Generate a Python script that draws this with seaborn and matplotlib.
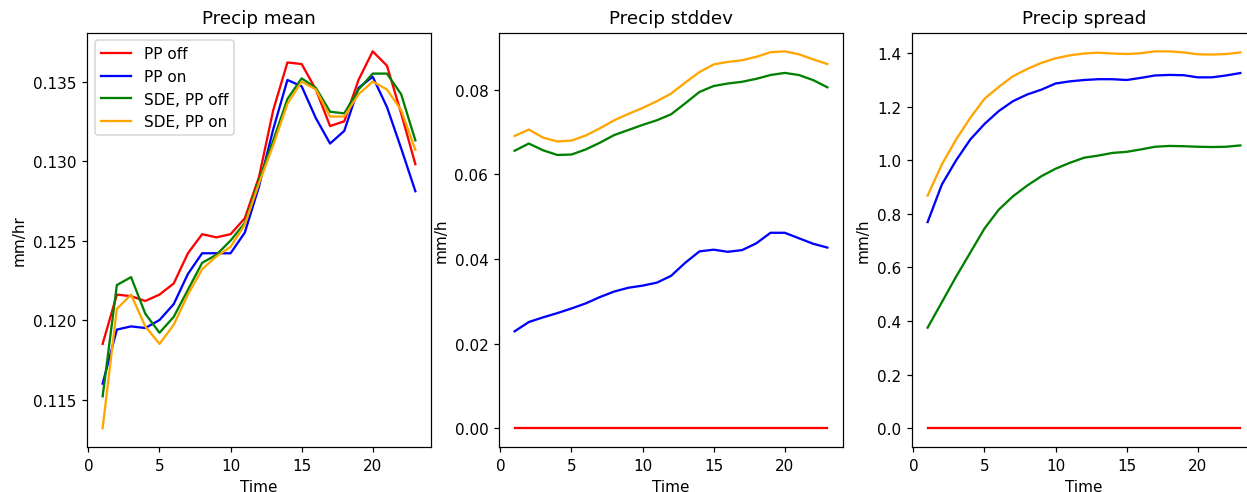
import numpy as np
import pandas as pd
import seaborn as sns
import matplotlib.pyplot as plt

# time steps
time = list(range(1, 24))

labels = ['PP off', 'PP on', 'SDE, PP off', 'SDE, PP on']
colors = ['red', 'blue', 'green', 'orange']

# precip mean (mm/hr)
mean_pp_off = [0.1185, 0.1216, 0.1215, 0.1212, 0.1216, 0.1223, 0.1242, 0.1254, 0.1252, 0.1254, 0.1264, 0.1290,
               0.1332, 0.1362, 0.1361, 0.1345, 0.1322, 0.1325, 0.1351, 0.1369, 0.1360, 0.1330, 0.1298]
mean_pp_on = [0.1160, 0.1194, 0.1196, 0.1195, 0.1200, 0.1210, 0.1229, 0.1242, 0.1242, 0.1242, 0.1255, 0.1284,
              0.1320, 0.1351, 0.1347, 0.1327, 0.1311, 0.1319, 0.1346, 0.1353, 0.1334, 0.1308, 0.1281]
mean_sde_off = [0.1152, 0.1222, 0.1227, 0.1204, 0.1192, 0.1202, 0.1219, 0.1236, 0.1241, 0.1250, 0.1261, 0.1288,
                0.1313, 0.1339, 0.1352, 0.1346, 0.1331, 0.1330, 0.1345, 0.1355, 0.1355, 0.1342, 0.1313]
mean_sde_on = [0.1132, 0.1207, 0.1216, 0.1196, 0.1185, 0.1197, 0.1216, 0.1232, 0.1240, 0.1246, 0.1260, 0.1286,
               0.1310, 0.1336, 0.1350, 0.1345, 0.1328, 0.1328, 0.1342, 0.1350, 0.1345, 0.1332, 0.1307]

# precip stddev (mm/h)
std_pp_off = [0.0] * 23
std_pp_on = [0.0229, 0.0251, 0.0262, 0.0272, 0.0283, 0.0295, 0.0310, 0.0323, 0.0332, 0.0337, 0.0344, 0.0360,
             0.0391, 0.0418, 0.0422, 0.0417, 0.0421, 0.0437, 0.0462, 0.0462, 0.0449, 0.0436, 0.0427]
std_sde_off = [0.0656, 0.0673, 0.0657, 0.0646, 0.0647, 0.0659, 0.0675, 0.0693, 0.0705, 0.0717, 0.0728, 0.0742,
               0.0768, 0.0795, 0.0809, 0.0815, 0.0819, 0.0826, 0.0835, 0.0840, 0.0835, 0.0823, 0.0806]
std_sde_on = [0.0691, 0.0706, 0.0687, 0.0678, 0.0680, 0.0692, 0.0709, 0.0728, 0.0743, 0.0757, 0.0773, 0.0791,
              0.0817, 0.0842, 0.0860, 0.0866, 0.0870, 0.0878, 0.0889, 0.0891, 0.0884, 0.0872, 0.0861]

# precip spread (mm/h)
spread_pp_off = [0.0] * 23
spread_pp_on = [0.769, 0.909, 0.999, 1.077, 1.135, 1.183, 1.220, 1.245, 1.263, 1.286, 1.294, 1.299,
                1.302, 1.302, 1.299, 1.307, 1.316, 1.318, 1.317, 1.309, 1.309, 1.316, 1.325]
spread_sde_off = [0.375, 0.470, 0.565, 0.655, 0.745, 0.815, 0.865, 0.905, 0.940, 0.968, 0.990, 1.009,
                  1.017, 1.027, 1.031, 1.040, 1.050, 1.053, 1.052, 1.050, 1.049, 1.050, 1.055]
spread_sde_on = [0.868, 0.984, 1.077, 1.158, 1.229, 1.273, 1.313, 1.340, 1.363, 1.380, 1.391, 1.398,
                 1.401, 1.398, 1.396, 1.399, 1.406, 1.406, 1.402, 1.395, 1.394, 1.396, 1.402]

panels = [
    ('Precip mean', 'mm/hr', [mean_pp_off, mean_pp_on, mean_sde_off, mean_sde_on]),
    ('Precip stddev', 'mm/h', [std_pp_off, std_pp_on, std_sde_off, std_sde_on]),
    ('Precip spread', 'mm/h', [spread_pp_off, spread_pp_on, spread_sde_off, spread_sde_on]),
]

# original looks rendered at a slightly higher dpi
DPI = 110
fig = plt.figure(figsize=(1247 / DPI, 493 / DPI), dpi=DPI)
lefts = [87 / 1247, 499 / 1247, 912 / 1247]
w = 344 / 1247
b = 45 / 493
h = 414.5 / 493

for i, (title, ylab, series) in enumerate(panels):
    ax = fig.add_axes([lefts[i], b, w, h])
    for j in range(len(series)):
        df = pd.DataFrame({'Time': time, 'val': series[j]})
        sns.lineplot(data=df, x='Time', y='val', color=colors[j], ax=ax,
                     label=labels[j] if i == 0 else None, legend=(i == 0))
    ax.set_title(title)
    ax.set_xlabel('Time')
    ax.set_ylabel(ylab)
    ax.set_xticks([0, 5, 10, 15, 20])
    if i == 0:
        ax.legend(loc='upper left')

fig.savefig('out.png', dpi=DPI)
